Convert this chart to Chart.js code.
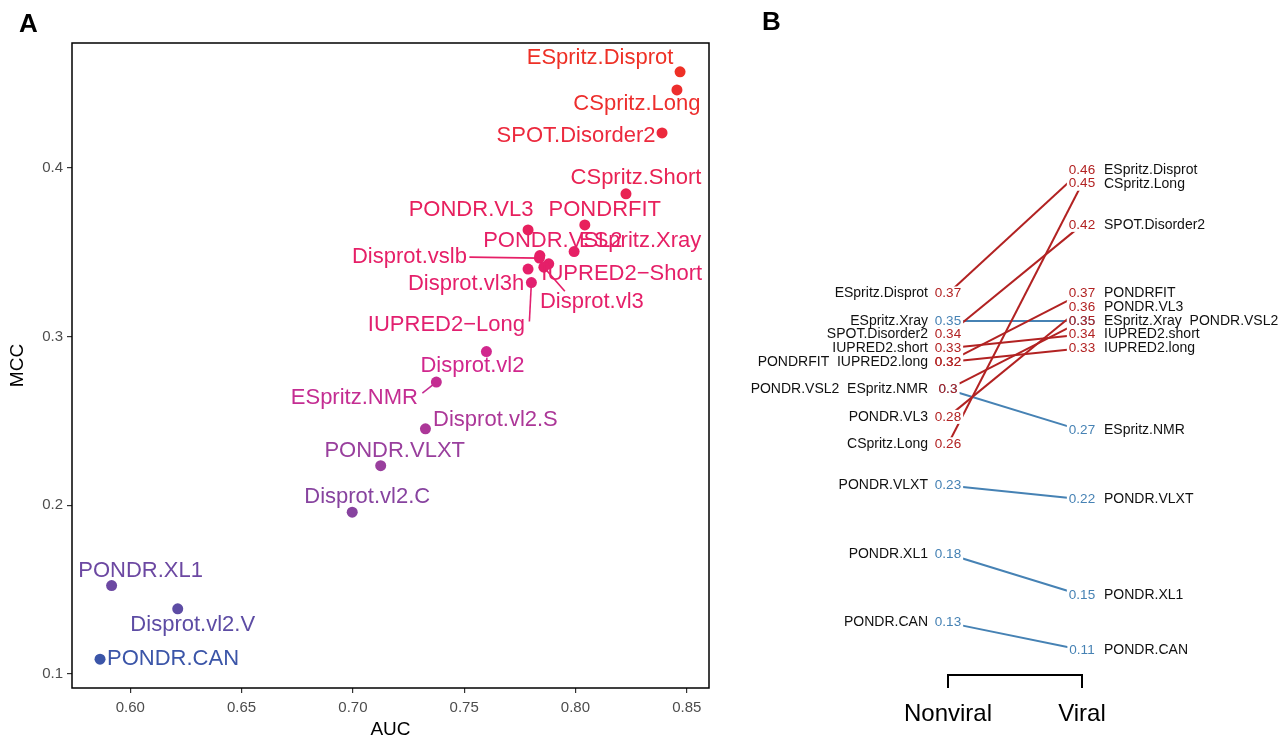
<!DOCTYPE html>
<html>
<head>
<meta charset="utf-8">
<script src="https://cdn.jsdelivr.net/npm/chart.js@4.4.0/dist/chart.umd.min.js"></script>
<style>
  body { margin: 0; background: #fff; width: 1287px; height: 739px; overflow: hidden; font-family: "Liberation Sans", Arial, sans-serif; }
  #scatterChart { position: absolute; left: 0; top: 0; }
  #slopeChart { position: absolute; left: 740px; top: 0; }
  .tag { position: absolute; font-weight: bold; font-size: 26px; line-height: 1; color: #000; }
</style>
</head>
<body>
<canvas id="scatterChart" width="740" height="739"></canvas>
<canvas id="slopeChart" width="547" height="739"></canvas>
<div class="tag" style="left:19px; top:10px">A</div>
<div class="tag" style="left:762px; top:8px">B</div>
<script>
// panel A: AUC vs MCC for every predictor
const models = [
  "ESpritz.Disprot", "CSpritz.Long", "SPOT.Disorder2", "CSpritz.Short", "PONDRFIT",
  "PONDR.VL3", "ESpritz.Xray", "PONDR.VSL2", "Disprot.vslb", "IUPRED2\u2212Short",
  "Disprot.vl3", "Disprot.vl3h", "IUPRED2\u2212Long", "Disprot.vl2", "ESpritz.NMR",
  "Disprot.vl2.S", "PONDR.VLXT", "Disprot.vl2.C", "PONDR.XL1", "Disprot.vl2.V", "PONDR.CAN"
];
const aucValues = [
  0.847, 0.8456, 0.8389, 0.8227, 0.8042,
  0.7787, 0.7994, 0.784, 0.7838, 0.788,
  0.7858, 0.7787, 0.7802, 0.760, 0.7375,
  0.7326, 0.7125, 0.6997, 0.5916, 0.6213, 0.5864
];
const mccValues = [
  0.4569, 0.4462, 0.4207, 0.3846, 0.3662,
  0.3632, 0.3504, 0.348, 0.3465, 0.3431,
  0.3411, 0.340, 0.332, 0.2911, 0.2730,
  0.2453, 0.2235, 0.1959, 0.1524, 0.1386, 0.1088
];
const xTickValues = [0.60, 0.65, 0.70, 0.75, 0.80, 0.85];
const xTickLabels = ["0.60", "0.65", "0.70", "0.75", "0.80", "0.85"];
const yTickValues = [0.1, 0.2, 0.3, 0.4];
const yTickLabels = ["0.1", "0.2", "0.3", "0.4"];

// panel B: MCC per predictor, nonviral vs viral proteins
const slopeModels = [
  "ESpritz.Disprot", "CSpritz.Long", "SPOT.Disorder2", "PONDRFIT", "PONDR.VL3",
  "ESpritz.Xray", "PONDR.VSL2", "IUPRED2.short", "IUPRED2.long", "ESpritz.NMR",
  "PONDR.VLXT", "PONDR.XL1", "PONDR.CAN"
];
const nonviralMCC = [0.37, 0.26, 0.34, 0.32, 0.28, 0.35, 0.3, 0.33, 0.32, 0.3, 0.23, 0.18, 0.13];
const viralMCC = [0.46, 0.45, 0.42, 0.37, 0.36, 0.35, 0.35, 0.34, 0.33, 0.27, 0.22, 0.15, 0.11];
const groupNames = ["Nonviral", "Viral"];

const FONT = "'Liberation Sans', Arial, Helvetica, sans-serif";
Chart.defaults.font.family = FONT;

// label placement (pixels from the point), like ggrepel left them
const labelShift = [
  [-80, -14], [-40, 14], [-86, 3], [10, -16], [20, -15],
  [-57, -20], [66, -11], [13, -15], [-130, -1], [73, 10],
  [48, 35], [-62, 15], [-85, 42], [-14, 14], [-82, 16],
  [70, -9], [14, -15], [15, -15], [29, -15], [15, 16], [73, 0]
];
// leader segments: start of the segment, relative to the point
const leaders = {
  "Disprot.vslb": [-70, -1],
  "Disprot.vl3": [21, 24],
  "IUPRED2\u2212Long": [-2, 39],
  "ESpritz.NMR": [-14, 11]
};

// colour ramp along MCC, blue -> purple -> magenta -> red
const ramp = [
  [0.11, [59, 85, 168]], [0.15, [106, 72, 162]], [0.22, [150, 64, 158]],
  [0.27, [194, 46, 147]], [0.30, [216, 36, 138]], [0.34, [229, 31, 106]],
  [0.39, [234, 34, 80]], [0.46, [238, 49, 36]]
];
function mccColor(v) {
  if (v <= ramp[0][0]) return `rgb(${ramp[0][1].join(",")})`;
  for (let i = 1; i < ramp.length; i++) {
    if (v <= ramp[i][0]) {
      const t = (v - ramp[i - 1][0]) / (ramp[i][0] - ramp[i - 1][0]);
      const c = ramp[i - 1][1].map((a, k) => Math.round(a + t * (ramp[i][1][k] - a)));
      return `rgb(${c.join(",")})`;
    }
  }
  return `rgb(${ramp[ramp.length - 1][1].join(",")})`;
}

const scatterDecor = {
  id: "scatterDecor",
  beforeDatasetsDraw(chart) {
    const { ctx, scales: { x, y } } = chart;
    ctx.save();
    ctx.lineWidth = 1.6;
    models.forEach((m, i) => {
      if (!leaders[m]) return;
      const px = x.getPixelForValue(aucValues[i]);
      const py = y.getPixelForValue(mccValues[i]);
      ctx.strokeStyle = mccColor(mccValues[i]);
      ctx.beginPath();
      ctx.moveTo(px + leaders[m][0], py + leaders[m][1]);
      ctx.lineTo(px, py);
      ctx.stroke();
    });
    ctx.restore();
  },
  afterDatasetsDraw(chart) {
    const { ctx, chartArea: a, scales: { x, y } } = chart;
    ctx.save();
    ctx.font = `22px ${FONT}`;
    ctx.textAlign = "center";
    ctx.textBaseline = "middle";
    models.forEach((m, i) => {
      const px = x.getPixelForValue(aucValues[i]);
      const py = y.getPixelForValue(mccValues[i]);
      ctx.fillStyle = mccColor(mccValues[i]);
      ctx.fillText(m, px + labelShift[i][0], py + labelShift[i][1]);
    });
    // full box around the panel
    ctx.strokeStyle = "#000";
    ctx.lineWidth = 1.5;
    ctx.strokeRect(a.left, a.top, a.right - a.left, a.bottom - a.top);
    ctx.restore();
  }
};

new Chart(document.getElementById("scatterChart"), {
  type: "scatter",
  data: {
    datasets: [{
      data: models.map((m, i) => ({ x: aucValues[i], y: mccValues[i] })),
      pointRadius: 5.5,
      pointHoverRadius: 5.5,
      pointBorderWidth: 0,
      pointBackgroundColor: mccValues.map(mccColor)
    }]
  },
  options: {
    responsive: false,
    animation: false,
    events: [],
    layout: { padding: { left: 2, right: 31, top: 43, bottom: 0 } },
    plugins: { legend: { display: false }, tooltip: { enabled: false } },
    scales: {
      x: {
        type: "linear",
        min: 0.5738,
        max: 0.86,
        afterBuildTicks: s => { s.ticks = xTickValues.map(v => ({ value: v })); },
        afterFit: s => { s.height = 51; },
        ticks: { callback: (v, i) => xTickLabels[i], color: "#4d4d4d", font: { size: 15 }, padding: 6, maxRotation: 0, autoSkip: false },
        grid: { drawOnChartArea: false, tickLength: 5, color: "#333", lineWidth: 1.2 },
        border: { display: false },
        title: { display: true, text: "AUC", color: "#000", font: { size: 19 }, padding: { top: 0, bottom: -2 } }
      },
      y: {
        type: "linear",
        min: 0.0917,
        max: 0.474,
        afterBuildTicks: s => { s.ticks = yTickValues.map(v => ({ value: v })); },
        afterFit: s => { s.width = 70; },
        ticks: { callback: (v, i) => yTickLabels[i], color: "#4d4d4d", font: { size: 15 }, padding: 4, autoSkip: false },
        grid: { drawOnChartArea: false, tickLength: 5, color: "#333", lineWidth: 1.2 },
        border: { display: false },
        title: { display: true, text: "MCC", color: "#000", font: { size: 19 }, padding: { top: 4, bottom: 0 } }
      }
    }
  },
  plugins: [scatterDecor]
});

// panel B
const UP = "#b22222";
const DOWN = "#4682b4";
const slopeColor = i => (viralMCC[i] > nonviralMCC[i] ? UP : DOWN);

const slopeLabels = {
  id: "slopeLabels",
  afterDatasetsDraw(chart) {
    const { ctx, scales: { x, y } } = chart;
    const sides = [nonviralMCC, viralMCC];
    ctx.save();
    ctx.font = `13.5px ${FONT}`;
    ctx.textAlign = "center";
    ctx.textBaseline = "middle";
    // white label boxes first so they hide the line ends
    sides.forEach((vals, s) => {
      const px = x.getPixelForValue(s + 1);
      vals.forEach(v => {
        const w = ctx.measureText(String(v)).width;
        ctx.fillStyle = "#fff";
        ctx.fillRect(px - w / 2 - 2, y.getPixelForValue(v) - 7, w + 4, 14);
      });
    });
    // values, blue ones under the red ones
    const order = slopeModels.map((m, i) => i).sort((a, b) => (slopeColor(a) === DOWN ? 0 : 1) - (slopeColor(b) === DOWN ? 0 : 1));
    sides.forEach((vals, s) => {
      const px = x.getPixelForValue(s + 1);
      order.forEach(i => {
        ctx.fillStyle = slopeColor(i);
        ctx.fillText(String(vals[i]), px, y.getPixelForValue(vals[i]));
      });
    });
    // names, joined when they share a value
    ctx.font = `14px ${FONT}`;
    ctx.fillStyle = "#111";
    sides.forEach((vals, s) => {
      const byValue = new Map();
      vals.forEach((v, i) => {
        const k = v.toFixed(2);
        if (!byValue.has(k)) byValue.set(k, { v, names: [] });
        byValue.get(k).names.push(slopeModels[i]);
      });
      ctx.textAlign = s === 0 ? "right" : "left";
      const px = x.getPixelForValue(s + 1) + (s === 0 ? -20 : 22);
      byValue.forEach(g => ctx.fillText(g.names.join("  "), px, y.getPixelForValue(g.v)));
    });
    ctx.restore();
  }
};

new Chart(document.getElementById("slopeChart"), {
  type: "line",
  data: {
    datasets: slopeModels.map((m, i) => ({
      label: m,
      data: [{ x: 1, y: nonviralMCC[i] }, { x: 2, y: viralMCC[i] }],
      borderColor: slopeColor(i),
      borderWidth: 2,
      pointRadius: 0,
      clip: false
    }))
  },
  options: {
    responsive: false,
    animation: false,
    events: [],
    layout: { padding: { left: 208, right: 205, top: 150, bottom: 0 } },
    plugins: { legend: { display: false }, tooltip: { enabled: false } },
    scales: {
      x: {
        type: "linear",
        min: 1,
        max: 2,
        afterBuildTicks: s => { s.ticks = groupNames.map((g, i) => ({ value: i + 1 })); },
        afterFit: s => { s.height = 64; },
        ticks: { callback: (v, i) => groupNames[i], color: "#000", font: { size: 24 }, padding: 12, maxRotation: 0, autoSkip: false },
        grid: { drawOnChartArea: false, tickLength: 13, color: "#000", lineWidth: 2 },
        border: { display: true, color: "#000", width: 2 }
      },
      y: { type: "linear", display: false, min: 0.0918, max: 0.4746 }
    }
  },
  plugins: [slopeLabels]
});
</script>
</body>
</html>
